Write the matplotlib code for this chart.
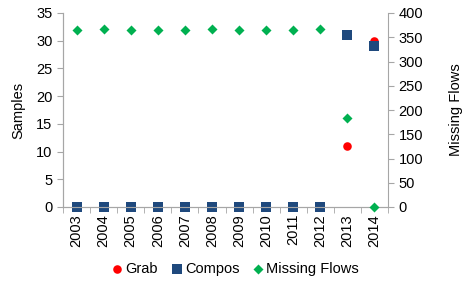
import numpy as np
import matplotlib.pyplot as plt

years = ["2003", "2004", "2005", "2006", "2007", "2008", "2009",
         "2010", "2011", "2012", "2013", "2014"]
grab = [0, 0, 0, 0, 0, 0, 0, 0, 0, 0, 11, 30]
compos = [0, 0, 0, 0, 0, 0, 0, 0, 0, 0, 31, 29]
missing_flows = [365, 366, 365, 365, 365, 366, 365, 365, 365, 366, 184, 0]

plt.rcParams['font.family'] = ['Liberation Sans', 'DejaVu Sans']
axis_color = "#A6A6A6"
fs = 10.5

fig = plt.figure(figsize=(4.65, 2.82), dpi=100)
ax = fig.add_axes([63/465, 1 - 207/282, (388-63)/465, (207-13)/282])
ax2 = ax.twinx()

x = np.arange(len(years))
ax.scatter(x, grab, marker="o", s=38, color="#FF0000", zorder=5, label="Grab",
           linewidths=0, clip_on=False)
ax.scatter(x, compos, marker="s", s=48, color="#1F497D", zorder=6, label="Compos",
           linewidths=0, clip_on=False)
ax2.scatter(x, missing_flows, marker="D", s=26, color="#00B050", zorder=5,
            label="Missing Flows", linewidths=0, clip_on=False)

ax.set_xlim(-0.5, len(years) - 0.5)
ax.set_ylim(0, 35)
ax2.set_ylim(0, 400)
ax.set_yticks(np.arange(0, 36, 5))
ax2.set_yticks(np.arange(0, 401, 50))

ax.set_xticks(x)
ax.set_xticklabels(years, rotation=90, fontsize=fs)
ax.set_xticks(np.arange(-0.5, len(years)), minor=True)
ax.tick_params(axis="x", which="major", length=0, pad=5)
ax.tick_params(axis="x", which="minor", length=4, color=axis_color, direction="out")
ax.tick_params(axis="y", length=4, color=axis_color, labelsize=fs, direction="out")
ax2.tick_params(axis="y", length=4, color=axis_color, labelsize=fs, direction="out")

for a in (ax, ax2):
    a.spines["top"].set_visible(False)
    for s in ("left", "right", "bottom"):
        a.spines[s].set_color(axis_color)
ax.spines["right"].set_visible(False)

ax.set_ylabel("Samples", fontsize=fs, labelpad=8)
ax2.set_ylabel("Missing Flows", fontsize=fs, labelpad=19)

h1, l1 = ax.get_legend_handles_labels()
h2, l2 = ax2.get_legend_handles_labels()
fig.legend(h1 + h2, l1 + l2, loc="center", bbox_to_anchor=(236/465, 1 - 269/282),
           ncol=3, frameon=False, fontsize=fs, handlelength=0.6, handletextpad=0.25,
           columnspacing=1.0, borderpad=0)

fig.savefig("out.png", dpi=100)
